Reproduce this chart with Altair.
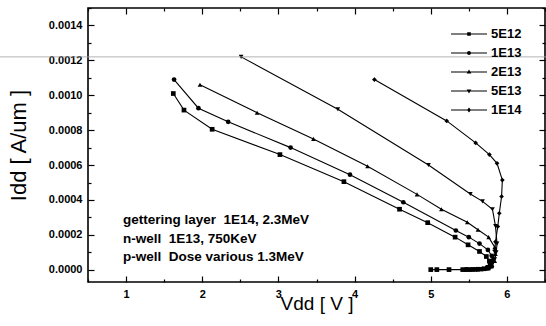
import altair as alt
import pandas as pd

# ---------------- data ----------------
series_names = ["5E12", "1E13", "2E13", "5E13", "1E14"]

vdd_5e12 = [1.62, 1.76, 2.13, 3.02, 3.86, 4.59, 4.96, 5.32, 5.49, 5.64, 5.73, 5.77, 5.78, 5.75, 5.70, 5.62, 5.55, 5.48, 5.42, 5.24, 5.08, 5.00]
idd_5e12 = [0.00101, 0.000915, 0.000805, 0.00066, 0.000505, 0.000347, 0.00027, 0.000187, 0.000143, 0.000105, 0.000076, 0.00005, 0.00003, 0.000014, 0.000006, 0.000003, 0.000002, 0.000002, 0.000001, 0.000001, 0.000001, 0.000001]

vdd_1e13 = [1.63, 1.95, 2.34, 3.16, 3.94, 4.64, 5.33, 5.50, 5.64, 5.75, 5.80, 5.81, 5.80, 5.76, 5.68, 5.60, 5.52, 5.46]
idd_1e13 = [0.00109, 0.000926, 0.000848, 0.0007, 0.000545, 0.000387, 0.000225, 0.000187, 0.00015, 0.000114, 0.00008, 0.00005, 0.00002, 0.000008, 0.000004, 0.000002, 0.000001, 0.000001]

vdd_2e13 = [1.97, 2.72, 3.46, 4.17, 4.82, 5.14, 5.48, 5.62, 5.76, 5.84, 5.85, 5.84, 5.80, 5.72, 5.64, 5.56, 5.50]
idd_2e13 = [0.00106, 0.0009, 0.00075, 0.000593, 0.000432, 0.000347, 0.000272, 0.000229, 0.000187, 0.00013, 0.00009, 0.00005, 0.00002, 0.000006, 0.000003, 0.000002, 0.000001]

vdd_5e13 = [2.51, 3.78, 4.97, 5.52, 5.68, 5.81, 5.85, 5.87, 5.86, 5.84, 5.80, 5.74, 5.66, 5.58]
idd_5e13 = [0.00122, 0.00092, 0.0006, 0.000434, 0.000392, 0.000347, 0.00025, 0.00015, 0.0001, 0.00006, 0.00003, 0.00001, 0.000004, 0.000002]

vdd_1e14 = [4.26, 5.21, 5.59, 5.77, 5.87, 5.94, 5.93, 5.90, 5.88, 5.85, 5.84, 5.82, 5.79, 5.74, 5.67, 5.60]
idd_1e14 = [0.00109, 0.000853, 0.000727, 0.00066, 0.00061, 0.000514, 0.00042, 0.000324, 0.000248, 0.00016, 0.00011, 0.00006, 0.00003, 0.00001, 0.000004, 0.000002]

annotations = ["gettering layer\u00a0\u00a01E14, 2.3MeV", "n-well\u00a0\u00a01E13, 750KeV", "p-well\u00a0\u00a0Dose various 1.3MeV"]

x_title = "Vdd [ V ]"
y_title = "Idd [ A/um ]\u00a0\u00a0\u00a0"
x_tick_values = [0.5, 1, 1.5, 2, 2.5, 3, 3.5, 4, 4.5, 5, 5.5, 6, 6.5]
y_tick_values = [round(i * 0.0001, 4) for i in range(0, 16)]

# ---------------- table ----------------
rows = []
for name, xs, ys in [("5E12", vdd_5e12, idd_5e12), ("1E13", vdd_1e13, idd_1e13),
                     ("2E13", vdd_2e13, idd_2e13), ("5E13", vdd_5e13, idd_5e13),
                     ("1E14", vdd_1e14, idd_1e14)]:
    for i, (xv, yv) in enumerate(zip(xs, ys)):
        rows.append({"series": name, "vdd": xv, "idd": yv, "ord": i})
df = pd.DataFrame(rows)

FONT = "Liberation Sans"
xscale = alt.Scale(domain=[0.5, 6.5], nice=False, zero=False)
yscale = alt.Scale(domain=[-0.00007, 0.0015], nice=False, zero=False)

x_main = alt.X("vdd:Q", scale=xscale, title=x_title,
               axis=alt.Axis(values=x_tick_values, grid=False, domain=False,
                             labelExpr="datum.value % 1 == 0 ? format(datum.value, 'd') : ''",
                             tickSize={"condition": {"test": "datum.value % 1 == 0", "value": -6}, "value": -3},
                             tickColor="black", tickWidth=1.2,
                             labelFont=FONT, labelFontSize=11, labelFontWeight="bold", labelColor="black",
                             labelPadding=12,
                             titleFont=FONT, titleFontSize=19, titleFontWeight="normal", titleColor="black",
                             titlePadding=-5))
y_main = alt.Y("idd:Q", scale=yscale, title=y_title,
               axis=alt.Axis(values=y_tick_values, grid=False, domain=False,
                             labelExpr="round(datum.value * 10000) % 2 == 0 ? format(datum.value, '.4f') : ''",
                             tickSize={"condition": {"test": "round(datum.value * 10000) % 2 == 0", "value": -6}, "value": -3},
                             tickColor="black", tickWidth=1.2,
                             labelFont=FONT, labelFontSize=11, labelFontWeight="bold", labelColor="black",
                             labelPadding=12,
                             titleFont=FONT, titleFontSize=22, titleFontWeight="normal", titleColor="black",
                             titlePadding=18))

x_top = alt.X("vdd:Q", scale=xscale, title=None,
              axis=alt.Axis(orient="top", values=x_tick_values, grid=False, domain=False, labels=False,
                            tickSize={"condition": {"test": "datum.value % 1 == 0", "value": -6}, "value": -3},
                            tickColor="black", tickWidth=1.2))
y_right = alt.Y("idd:Q", scale=yscale, title=None,
                axis=alt.Axis(orient="right", values=y_tick_values, grid=False, domain=False, labels=False,
                              tickSize={"condition": {"test": "round(datum.value * 10000) % 2 == 0", "value": -6}, "value": -3},
                              tickColor="black", tickWidth=1.2))

base = alt.Chart(df)

lines = base.mark_line(color="black", strokeWidth=1.1).encode(
    x=x_main, y=y_main, detail="series:N", order="ord:Q")

points = base.mark_point(filled=True, color="black", size=22, opacity=1).encode(
    x=x_top, y=y_right,
    shape=alt.Shape("series:N",
                    scale=alt.Scale(domain=series_names,
                                    range=["square", "circle", "triangle-up", "triangle-down", "diamond"]),
                    legend=None))

bar = "M-1,-0.022L1,-0.022L1,0.022L-1,0.022Z"
legend_paths = [
    bar + "M-0.1,-0.1L0.1,-0.1L0.1,0.1L-0.1,0.1Z",
    bar + "M0.11,0A0.11,0.11,0,1,1,-0.11,0A0.11,0.11,0,1,1,0.11,0Z",
    bar + "M0,-0.14L0.13,0.09L-0.13,0.09Z",
    bar + "M0,0.14L-0.13,-0.09L0.13,-0.09Z",
    bar + "M0,-0.14L0.11,0L0,0.14L-0.11,0Z",
]
legend_holder = base.mark_point(filled=True, fill="black", stroke="black", strokeWidth=1.1,
                                size=1300, opacity=0).encode(
    x=alt.X("vdd:Q", axis=None), y=alt.Y("idd:Q", axis=None),
    shape=alt.Shape("series:N",
                    scale=alt.Scale(domain=series_names, range=legend_paths),
                    legend=alt.Legend(title=None, orient="none", legendX=362, legendY=19,
                                      symbolSize=1300, symbolOpacity=1, symbolFillColor="black",
                                      symbolStrokeColor="black", symbolStrokeWidth=1.1,
                                      clipHeight=14, rowPadding=5,
                                      labelFont=FONT, labelFontSize=13, labelFontWeight="bold",
                                      labelColor="black", labelOffset=3)))

def note(text, yv):
    return alt.Chart(pd.DataFrame({"t": [text]})).mark_text(
        align="left", baseline="middle", font=FONT, fontSize=13.5, fontWeight="bold", color="black"
    ).encode(x=alt.X(datum=0.96, axis=None), y=alt.Y(datum=yv, axis=None), text="t:N")

notes = [note(annotations[0], 0.000285), note(annotations[1], 0.000177), note(annotations[2], 0.000074)]

scanline = alt.Chart(pd.DataFrame({"y": [0.00122]})).mark_rule(
    color="#a0a0a0", strokeWidth=1, opacity=0.8
).encode(y=alt.Y("y:Q", axis=None), x=alt.value(-88), x2=alt.value(458))

chart = alt.layer(lines, points, legend_holder, scanline, *notes).resolve_scale(
    shape="independent").resolve_legend(shape="independent").resolve_axis(
    x="independent", y="independent").properties(
    width=457, height=274,
    padding={"left": 88, "top": 8, "right": 1, "bottom": 44},
    autosize=alt.AutoSizeParams(type="none"),
    background="white",
).configure_view(stroke="black", strokeWidth=1.6)

chart.save("out.html", embed_options={"renderer": "svg", "actions": False})
